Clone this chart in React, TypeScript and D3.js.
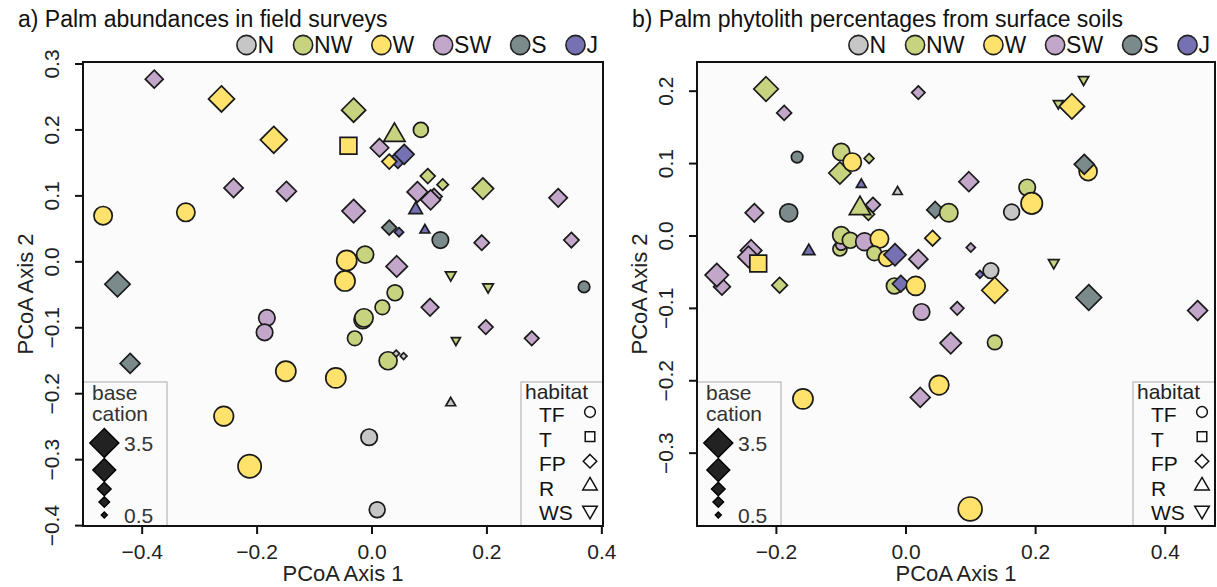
import * as React from "react";
import * as d3 from "d3";

// region groups and habitat codes
const regions = ["N", "NW", "W", "SW", "S", "J"];
const habitats = ["TF", "T", "FP", "R", "WS"];
const cationLevels = [3.5, 2.7, 1.5, 1.1, 0.5];
const cationLabels = ["3.5", "", "", "", "0.5"];

const xTicksA = [-0.4, -0.2, 0, 0.2, 0.4];
const yTicksA = [-0.4, -0.3, -0.2, -0.1, 0, 0.1, 0.2, 0.3];
const xTicksB = [-0.2, 0, 0.2, 0.4];
const yTicksB = [-0.3, -0.2, -0.1, 0, 0.1, 0.2];

// [PCoA 1, PCoA 2, region, habitat, base cation]
type Site = [number, number, string, string, number];

const fieldSurveys: Site[] = [
  [-0.379, 0.277, "SW", "FP", 2.05],
  [-0.262, 0.247, "W", "FP", 3.1],
  [-0.171, 0.185, "W", "FP", 3.2],
  [-0.241, 0.112, "SW", "FP", 2.2],
  [-0.149, 0.107, "SW", "FP", 2.3],
  [-0.468, 0.07, "W", "TF", 2.7],
  [-0.324, 0.075, "W", "TF", 2.7],
  [-0.443, -0.034, "S", "FP", 3.0],
  [-0.183, -0.085, "SW", "TF", 2.4],
  [-0.187, -0.107, "SW", "TF", 2.4],
  [-0.421, -0.154, "S", "FP", 2.3],
  [-0.15, -0.166, "W", "TF", 3.0],
  [-0.063, -0.176, "W", "TF", 3.0],
  [-0.258, -0.234, "W", "TF", 2.9],
  [-0.213, -0.31, "W", "TF", 3.5],
  [-0.032, 0.23, "NW", "FP", 2.85],
  [0.039, 0.192, "NW", "R", 2.3],
  [0.085, 0.2, "NW", "TF", 2.15],
  [-0.041, 0.176, "W", "T", 2.8],
  [0.013, 0.173, "SW", "FP", 2.1],
  [0.045, 0.155, "J", "FP", 2.0],
  [0.056, 0.163, "J", "FP", 2.3],
  [0.03, 0.152, "W", "FP", 1.65],
  [0.097, 0.13, "NW", "FP", 1.65],
  [0.123, 0.117, "NW", "FP", 1.2],
  [0.193, 0.111, "NW", "FP", 2.5],
  [0.108, 0.099, "SW", "FP", 1.8],
  [0.079, 0.106, "SW", "FP", 2.4],
  [0.102, 0.094, "SW", "FP", 2.3],
  [0.076, 0.079, "J", "R", 1.35],
  [0.324, 0.097, "SW", "FP", 2.1],
  [-0.032, 0.077, "SW", "FP", 2.75],
  [0.03, 0.052, "S", "FP", 1.65],
  [0.047, 0.045, "J", "FP", 0.9],
  [0.092, 0.048, "J", "R", 0.9],
  [0.119, 0.033, "S", "TF", 2.4],
  [0.191, 0.029, "SW", "FP", 1.7],
  [0.347, 0.033, "SW", "FP", 1.7],
  [-0.012, 0.011, "NW", "TF", 2.5],
  [-0.044, 0.002, "W", "TF", 3.0],
  [-0.047, -0.029, "W", "TF", 3.0],
  [0.043, -0.007, "SW", "FP", 2.5],
  [0.137, -0.02, "NW", "WS", 1.0],
  [0.202, -0.038, "NW", "WS", 1.0],
  [0.369, -0.038, "S", "TF", 1.6],
  [0.04, -0.047, "NW", "TF", 2.3],
  [0.018, -0.069, "NW", "TF", 2.1],
  [0.101, -0.069, "SW", "FP", 2.0],
  [-0.016, -0.088, "NW", "TF", 2.6],
  [-0.014, -0.085, "NW", "TF", 2.7],
  [0.198, -0.099, "SW", "FP", 1.6],
  [0.278, -0.116, "SW", "FP", 1.6],
  [0.146, -0.119, "NW", "WS", 0.8],
  [-0.03, -0.116, "NW", "TF", 2.1],
  [0.028, -0.15, "NW", "TF", 2.65],
  [0.042, -0.139, "N", "FP", 0.6],
  [0.055, -0.143, "N", "FP", 0.6],
  [0.137, -0.214, "N", "R", 0.9],
  [-0.005, -0.266, "N", "TF", 2.4],
  [0.009, -0.376, "N", "TF", 2.3],
];

const soilPhytoliths: Site[] = [
  [-0.216, 0.203, "NW", "FP", 2.9],
  [-0.188, 0.17, "SW", "FP", 1.65],
  [0.019, 0.198, "SW", "FP", 1.45],
  [-0.168, 0.109, "S", "TF", 1.6],
  [-0.1, 0.116, "NW", "TF", 2.5],
  [-0.102, 0.087, "NW", "FP", 2.6],
  [-0.083, 0.102, "W", "TF", 2.7],
  [-0.057, 0.107, "NW", "FP", 1.0],
  [-0.069, 0.071, "J", "R", 0.9],
  [-0.013, 0.061, "N", "R", 0.85],
  [-0.058, 0.03, "NW", "FP", 1.3],
  [-0.051, 0.043, "SW", "FP", 1.65],
  [-0.071, 0.038, "NW", "R", 2.3],
  [-0.234, 0.032, "SW", "FP", 2.1],
  [-0.181, 0.032, "S", "TF", 2.65],
  [0.045, 0.036, "S", "FP", 1.9],
  [0.066, 0.032, "NW", "TF", 2.7],
  [-0.15, -0.021, "J", "R", 1.2],
  [-0.239, -0.02, "SW", "FP", 2.5],
  [-0.243, -0.029, "SW", "FP", 2.5],
  [-0.228, -0.038, "W", "T", 2.8],
  [-0.284, -0.07, "SW", "FP", 1.9],
  [-0.292, -0.054, "SW", "FP", 2.75],
  [-0.195, -0.068, "NW", "FP", 1.75],
  [-0.102, -0.018, "NW", "TF", 2.0],
  [-0.1, -0.012, "SW", "TF", 1.5],
  [-0.1, 0.001, "NW", "TF", 2.5],
  [-0.086, -0.006, "NW", "TF", 2.3],
  [-0.064, -0.008, "SW", "TF", 2.6],
  [-0.041, -0.004, "W", "TF", 2.7],
  [-0.049, -0.024, "NW", "TF", 2.1],
  [-0.03, -0.031, "W", "TF", 2.3],
  [-0.017, -0.026, "J", "FP", 2.6],
  [0.019, -0.032, "SW", "FP", 2.2],
  [0.041, -0.003, "W", "FP", 1.75],
  [-0.018, -0.069, "NW", "TF", 2.3],
  [-0.008, -0.066, "J", "FP", 1.9],
  [0.015, -0.069, "W", "TF", 2.8],
  [0.024, -0.105, "SW", "TF", 2.4],
  [0.274, 0.216, "NW", "WS", 0.95],
  [0.235, 0.183, "NW", "WS", 0.9],
  [0.256, 0.179, "W", "FP", 3.0],
  [0.281, 0.089, "W", "TF", 2.65],
  [0.275, 0.099, "S", "FP", 2.3],
  [0.097, 0.075, "SW", "FP", 2.3],
  [0.187, 0.067, "NW", "TF", 2.4],
  [0.194, 0.045, "W", "TF", 3.2],
  [0.163, 0.033, "N", "TF", 2.3],
  [0.1, -0.016, "SW", "FP", 0.9],
  [0.228, -0.037, "NW", "WS", 1.0],
  [0.114, -0.053, "J", "FP", 0.75],
  [0.131, -0.048, "N", "TF", 2.25],
  [0.137, -0.075, "W", "FP", 3.1],
  [0.282, -0.085, "S", "FP", 3.05],
  [0.45, -0.103, "SW", "FP", 2.3],
  [0.079, -0.1, "SW", "FP", 1.45],
  [0.069, -0.148, "SW", "FP", 2.5],
  [0.137, -0.147, "NW", "TF", 2.1],
  [0.051, -0.206, "W", "TF", 2.9],
  [0.099, -0.377, "W", "TF", 3.6],
  [-0.159, -0.225, "W", "TF", 3.0],
  [0.022, -0.223, "SW", "FP", 2.3],
];

const regionFill: Record<string, string> = {
  N: "#c6c6c6",
  NW: "#c8d37f",
  W: "#fee26c",
  SW: "#c2a7ca",
  S: "#7b8b8b",
  J: "#7571b3",
};

const FONT = "'Liberation Sans', Arial, Helvetica, sans-serif";
const glyphW: Record<string, number> = { N: 0.722, W: 0.944, S: 0.667, J: 0.5 };

// base radius from base cation value
const sizeScale = d3.scaleLinear().domain([0.5, 3.5]).range([2.4, 11.6]);

// R pch 21-25 outlines
function markPath(hab: string, r: number): string {
  const p = d3.path();
  if (hab === "T") {
    const h = r * 0.886;
    p.rect(-h, -h, 2 * h, 2 * h);
  } else if (hab === "FP") {
    const h = r * 1.2533;
    p.moveTo(0, -h);
    p.lineTo(h, 0);
    p.lineTo(0, h);
    p.lineTo(-h, 0);
    p.closePath();
  } else if (hab === "R") {
    p.moveTo(0, -1.555 * r);
    p.lineTo(1.3468 * r, 0.7776 * r);
    p.lineTo(-1.3468 * r, 0.7776 * r);
    p.closePath();
  } else if (hab === "WS") {
    p.moveTo(0, 1.555 * r);
    p.lineTo(1.3468 * r, -0.7776 * r);
    p.lineTo(-1.3468 * r, -0.7776 * r);
    p.closePath();
  } else {
    p.arc(0, 0, r, 0, 2 * Math.PI);
    p.closePath();
  }
  return p.toString();
}

const fmt = (v: number) => d3.format(".1f")(v).replace("-", "\u2212");

interface PanelProps {
  title: string;
  sites: Site[];
  left: number;
  right: number;
  xDomain: [number, number];
  yDomain: [number, number];
  xTicks: number[];
  yTicks: number[];
}

const TOP = 62;
const BOTTOM = 526;

function Panel({ title, sites, left, right, xDomain, yDomain, xTicks, yTicks }: PanelProps) {
  const x = d3.scaleLinear().domain(xDomain).range([left, right]);
  const y = d3.scaleLinear().domain(yDomain).range([BOTTOM, TOP]);

  // region legend across the top, right-aligned to the frame
  const widths = regions.map((g) => g.split("").reduce((s, c) => s + glyphW[c], 0) * 23);
  const gap = 40;
  const total = d3.sum(widths) + gap * (regions.length - 1) + 11;
  let cx = right - 5 - total;
  const legendItems = regions.map((g, i) => {
    const item = { g, cx };
    cx += widths[i] + gap;
    return item;
  });

  const boxTop = 382;
  const cationRowY = [61, 88, 107, 120, 133];

  return (
    <g>
      <text x={left - 65} y={27} fontSize={23} fill="#111">{title}</text>
      {legendItems.map((d) => (
        <g key={d.g}>
          <circle cx={d.cx} cy={45} r={9.6} fill={regionFill[d.g]} stroke="#222" strokeWidth={1.6} />
          <text x={d.cx + 11} y={53} fontSize={23} fill="#111">{d.g}</text>
        </g>
      ))}

      <rect x={left} y={TOP} width={right - left} height={BOTTOM - TOP} fill="#fbfbfb" />

      {/* base cation legend */}
      <rect x={left} y={boxTop} width={84} height={BOTTOM - boxTop} fill="#fbfbfb" stroke="#aaa" strokeWidth={1} />
      <text x={left + 9} y={400} fontSize={21} fill="#333">base</text>
      <text x={left + 9} y={421} fontSize={21} fill="#333">cation</text>
      {cationLevels.map((v, i) => (
        <g key={i}>
          <path
            d={markPath("FP", sizeScale(v))}
            transform={`translate(${left + 21.3},${boxTop + cationRowY[i]})`}
            fill="#222"
            stroke="#000"
            strokeWidth={1.4}
          />
          {cationLabels[i] && (
            <text x={left + 41} y={boxTop + cationRowY[i] + 8} fontSize={21} fill="#333">{cationLabels[i]}</text>
          )}
        </g>
      ))}

      {/* habitat legend */}
      <rect x={right - 82} y={boxTop} width={82} height={BOTTOM - boxTop} fill="#fbfbfb" stroke="#aaa" strokeWidth={1} />
      <text x={right - 78} y={399} fontSize={21} fill="#222">habitat</text>
      {habitats.map((h, i) => (
        <g key={h}>
          <text x={right - 64} y={422 + i * 24.6} fontSize={21} fill="#111">{h}</text>
          <path
            d={markPath(h, 5.4)}
            transform={`translate(${right - 13},${412 + i * 24.6})`}
            fill="#fff"
            stroke="#111"
            strokeWidth={1.5}
          />
        </g>
      ))}

      {sites.map((s, i) => (
        <path
          key={i}
          d={markPath(s[3], sizeScale(s[4]))}
          transform={`translate(${x(s[0])},${y(s[1])})`}
          fill={regionFill[s[2]]}
          stroke="#1a1a1a"
          strokeWidth={1.7}
        />
      ))}

      <rect x={left} y={TOP} width={right - left} height={BOTTOM - TOP} fill="none" stroke="#111" strokeWidth={2} />

      {xTicks.map((t) => (
        <g key={"x" + t}>
          <line x1={x(t)} x2={x(t)} y1={BOTTOM} y2={BOTTOM + 8} stroke="#111" strokeWidth={2} />
          <text x={x(t)} y={559} fontSize={21} textAnchor="middle" fill="#222">{fmt(t)}</text>
        </g>
      ))}
      {yTicks.map((t) => (
        <g key={"y" + t}>
          <line x1={left - 8} x2={left} y1={y(t)} y2={y(t)} stroke="#111" strokeWidth={2} />
          <text
            transform={`translate(${left - 24},${y(t)}) rotate(-90)`}
            fontSize={21}
            textAnchor="middle"
            fill="#222"
          >
            {fmt(t)}
          </text>
        </g>
      ))}

      <text x={(left + right) / 2} y={581} fontSize={22} textAnchor="middle" fill="#222">PCoA Axis 1</text>
      <text
        transform={`translate(${left - 50},${(TOP + BOTTOM) / 2}) rotate(-90)`}
        fontSize={22}
        textAnchor="middle"
        fill="#222"
      >
        PCoA Axis 2
      </text>
    </g>
  );
}

export default function App() {
  return (
    <svg
      width={1217}
      height={587}
      style={{ position: "absolute", left: 0, top: 0, background: "#fff" }}
      fontFamily={FONT}
    >
      <Panel
        title="a) Palm abundances in field surveys"
        sites={fieldSurveys}
        left={83}
        right={603}
        xDomain={[-0.503, 0.402]}
        yDomain={[-0.4006, 0.303]}
        xTicks={xTicksA}
        yTicks={yTicksA}
      />
      <Panel
        title="b) Palm phytolith percentages from surface soils"
        sites={soilPhytoliths}
        left={697}
        right={1215}
        xDomain={[-0.3225, 0.4768]}
        yDomain={[-0.4006, 0.2403]}
        xTicks={xTicksB}
        yTicks={yTicksB}
      />
    </svg>
  );
}
